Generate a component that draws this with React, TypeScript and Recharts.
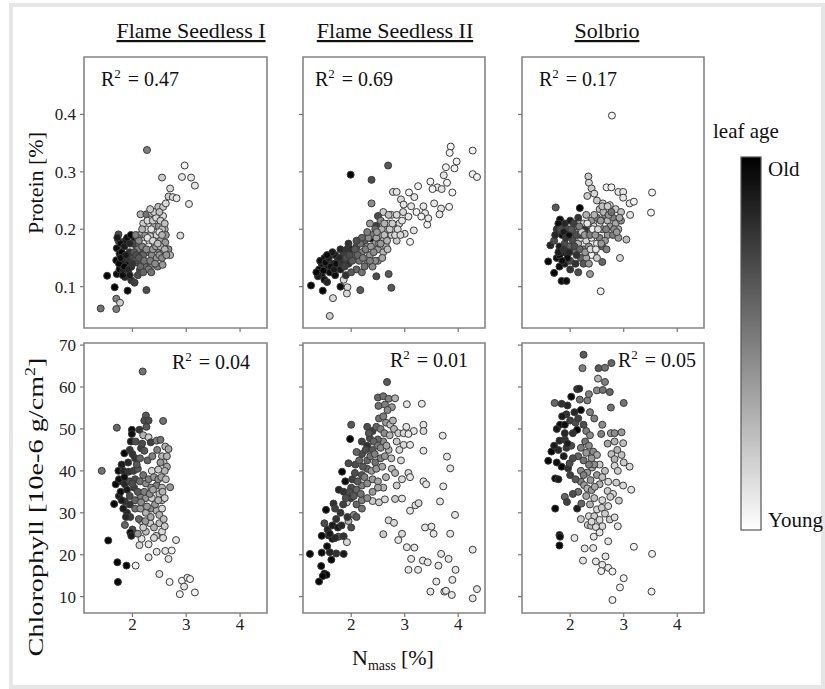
import React from 'react';
import { ScatterChart, Scatter, XAxis, YAxis, ReferenceArea } from 'recharts';

type Pt = [number, number, number]; // [N mass %, value, leaf age 0=old .. 1=young]

const cultivars = ['Flame Seedless I', 'Flame Seedless II', 'Solbrio'];
const nTicks = [2, 3, 4];
const proteinTicks = [0.1, 0.2, 0.3, 0.4];
const chlTicks = [10, 20, 30, 40, 50, 60, 70];
const proteinR2 = ['0.47', '0.69', '0.17'];
const chlR2 = ['0.04', '0.01', '0.05'];

const fs1Protein: Pt[] = [
  [2.27,0.338,0.5],[2.97,0.311,0.95],[2.55,0.29,0.8],[2.92,0.291,0.9],[3.09,0.29,0.9],[3.16,0.276,0.9],
  [2.70,0.271,0.85],[2.67,0.257,0.8],[2.75,0.256,0.85],[2.82,0.254,0.9],[3.05,0.244,0.9],[2.48,0.239,0.75],
  [2.57,0.239,0.8],[2.15,0.226,0.7],[2.26,0.226,0.45],[2.36,0.228,0.75],[2.57,0.223,0.85],[2.89,0.189,0.85],
  [2.6,0.2,0.7],[2.62,0.19,0.6],[1.74,0.191,0.3],[1.74,0.18,0.3],[2.04,0.183,0.05],[1.87,0.18,0.05],
  [2.3,0.207,0.9],[2.4,0.205,0.7],[2.49,0.205,0.6],[2.55,0.2,0.75],[2.14,0.19,0.75],[2.24,0.19,0.6],
  [2.33,0.188,0.8],[2.42,0.18,0.7],[2.52,0.18,0.65],[2.61,0.177,0.6],[2.2,0.175,0.95],[2.3,0.17,0.9],
  [2.08,0.17,0.4],[2.4,0.166,0.6],[2.49,0.164,0.55],[2.58,0.162,0.6],[2.67,0.165,0.55],[2.7,0.155,0.7],
  [1.71,0.167,0.05],[1.76,0.158,0.05],[1.7,0.146,0.02],[1.82,0.146,0.1],[1.92,0.149,0.2],[2.01,0.152,0.3],
  [2.1,0.142,0.45],[2.19,0.138,0.5],[2.28,0.141,0.5],[2.37,0.138,0.55],[2.47,0.135,0.5],[2.56,0.138,0.6],
  [1.89,0.138,0.05],[1.98,0.135,0.15],[2.14,0.129,0.3],[2.23,0.135,0.45],[1.53,0.119,0.02],[1.71,0.122,0.05],
  [1.86,0.117,0.15],[1.98,0.111,0.2],[2.04,0.107,0.25],[1.67,0.099,0.02],[1.91,0.093,0.02],[2.26,0.094,0.3],
  [1.7,0.079,0.5],[1.77,0.072,0.8],[1.7,0.061,0.5],[1.41,0.062,0.45],[1.76,0.13,0.02],[1.83,0.128,0.1],
  [2.3,0.16,0.5],[2.36,0.155,0.55],[2.17,0.16,0.3],[1.95,0.16,0.2],[2.05,0.145,0.35],[1.8,0.14,0.1],
  [2.1,0.165,0.5],[2.2,0.155,0.4],[2.45,0.15,0.6],[2.0,0.175,0.3],[2.1,0.185,0.6],[2.25,0.2,0.85],
  [2.35,0.2,0.9],[2.45,0.19,0.85],[2.5,0.195,0.9],
  [1.72,0.185,0.1],[1.78,0.175,0.05],[1.8,0.16,0.02],[1.85,0.17,0.1],[1.9,0.185,0.05],[1.95,0.175,0.15],
  [1.97,0.19,0.02],[1.75,0.14,0.02],[1.78,0.15,0.05],[1.85,0.135,0.02],[1.88,0.155,0.1],[1.93,0.13,0.15],
  [2.0,0.14,0.2],[2.03,0.16,0.35],[2.07,0.155,0.3],[2.12,0.15,0.35],[2.15,0.135,0.4],[2.18,0.17,0.5],
  [2.22,0.145,0.45],[2.26,0.165,0.55],[2.3,0.13,0.5],[2.33,0.145,0.5],[2.38,0.165,0.6],[2.42,0.14,0.55],
  [2.44,0.17,0.65],[2.5,0.155,0.6],[2.52,0.17,0.7],[2.55,0.15,0.55],[2.6,0.165,0.7],[2.63,0.155,0.6],
  [2.2,0.21,0.8],[2.28,0.215,0.85],[2.38,0.215,0.8],[2.44,0.22,0.85],[2.52,0.215,0.8],[2.6,0.21,0.75],
  [2.18,0.2,0.7],[2.28,0.185,0.9],[2.38,0.18,0.85],[2.47,0.175,0.75],[2.55,0.19,0.7],[2.12,0.18,0.55],
  [2.06,0.19,0.5],[1.95,0.12,0.1],[2.1,0.12,0.3],[2.2,0.125,0.4],[2.35,0.125,0.45],[1.82,0.12,0.05],
  [2.4,0.23,0.8],[2.5,0.23,0.75],[2.33,0.235,0.8],[2.62,0.245,0.85],
];

const fs2Protein: Pt[] = [
  [3.86,0.344,0.95],[3.84,0.333,0.95],[4.27,0.337,0.95],[3.97,0.318,0.95],[3.93,0.306,0.95],[3.77,0.308,0.95],
  [4.27,0.296,0.95],[4.35,0.291,0.95],[3.73,0.294,0.9],[3.79,0.281,0.95],[3.48,0.283,0.95],[3.25,0.275,0.95],
  [3.61,0.273,0.9],[3.52,0.27,0.95],[3.69,0.27,0.9],[3.89,0.264,0.95],[3.08,0.264,0.95],[3.18,0.256,0.9],
  [2.78,0.265,0.85],[2.85,0.265,0.9],[2.93,0.252,0.85],[2.98,0.243,0.9],[3.55,0.245,0.9],[3.68,0.236,0.9],
  [3.83,0.239,0.95],[3.12,0.24,0.9],[3.22,0.23,0.95],[3.35,0.24,0.9],[3.38,0.228,0.9],[3.31,0.222,0.95],
  [3.42,0.208,0.95],[3.44,0.219,0.9],[3.65,0.226,0.9],[2.97,0.23,0.85],[3.07,0.222,0.9],[3.17,0.198,0.9],
  [3.1,0.178,0.95],[3.0,0.192,0.85],[2.69,0.311,0.35],[1.99,0.295,0.02],[2.38,0.286,0.3],[2.38,0.245,0.55],
  [2.6,0.23,0.8],[2.5,0.223,0.3],[2.47,0.206,0.25],[2.37,0.184,0.02],[2.7,0.122,0.35],[2.75,0.098,0.35],
  [2.17,0.094,0.35],[2.47,0.118,0.3],[1.86,0.112,0.85],[1.93,0.099,0.85],[1.92,0.088,0.85],[1.66,0.08,0.85],
  [1.6,0.049,0.8],[1.25,0.102,0.02],[1.47,0.093,0.02],[1.4,0.13,0.02],[1.45,0.14,0.05],[1.5,0.15,0.02],
  [1.55,0.135,0.1],[1.6,0.125,0.05],[1.45,0.12,0.02],[1.5,0.112,0.05],[1.38,0.118,0.1],[1.65,0.14,0.15],
  [1.7,0.155,0.1],[1.75,0.145,0.2],[1.8,0.13,0.1],[1.85,0.16,0.25],[1.9,0.15,0.3],[1.95,0.14,0.2],
  [2.0,0.165,0.05],[2.05,0.155,0.4],[2.1,0.17,0.3],[2.15,0.145,0.45],[2.2,0.16,0.5],[2.25,0.18,0.4],
  [2.3,0.17,0.55],[2.35,0.155,0.6],[2.4,0.19,0.5],[2.45,0.175,0.65],[2.5,0.165,0.6],[2.55,0.19,0.7],
  [2.6,0.18,0.75],[2.65,0.2,0.75],[2.7,0.21,0.8],[2.75,0.19,0.8],[2.8,0.2,0.85],[2.85,0.18,0.8],
  [2.9,0.21,0.85],[2.6,0.16,0.7],[2.5,0.145,0.6],[2.3,0.14,0.5],[2.1,0.13,0.4],[1.9,0.12,0.2],
  [2.0,0.125,0.35],[2.2,0.125,0.45],[2.4,0.135,0.55],[2.45,0.2,0.45],[2.55,0.215,0.55],[2.35,0.21,0.6],
  [1.7,0.12,0.05],[1.55,0.108,0.15],[1.8,0.1,0.05],[2.65,0.17,0.7],[2.75,0.225,0.85],
  [1.35,0.125,0.02],[1.42,0.145,0.05],[1.48,0.128,0.02],[1.52,0.142,0.05],[1.58,0.15,0.1],[1.62,0.135,0.05],
  [1.68,0.13,0.1],[1.72,0.14,0.05],[1.78,0.15,0.15],[1.82,0.14,0.2],[1.88,0.135,0.25],[1.92,0.165,0.2],
  [1.97,0.155,0.3],[2.02,0.145,0.35],[2.07,0.165,0.35],[2.12,0.155,0.4],[2.17,0.175,0.45],[2.22,0.15,0.5],
  [2.27,0.165,0.5],[2.32,0.185,0.55],[2.37,0.17,0.6],[2.42,0.16,0.55],[2.47,0.185,0.65],[2.52,0.175,0.65],
  [2.57,0.2,0.7],[2.62,0.19,0.75],[2.67,0.18,0.7],[2.72,0.2,0.8],[2.77,0.21,0.8],[2.82,0.19,0.85],
  [2.87,0.2,0.85],[2.92,0.19,0.85],[2.95,0.215,0.9],[2.85,0.225,0.85],[2.7,0.225,0.75],[2.62,0.21,0.7],
  [2.48,0.195,0.6],[2.3,0.195,0.5],[2.2,0.185,0.4],[2.1,0.18,0.3],[1.95,0.175,0.2],[1.8,0.165,0.15],
  [1.65,0.16,0.1],[1.55,0.155,0.02],[2.55,0.175,0.6],[2.45,0.145,0.55],[2.35,0.145,0.5],[2.25,0.135,0.45],
  [2.58,0.15,0.65],[2.68,0.165,0.75],
];

const solProtein: Pt[] = [
  [2.78,0.398,0.95],[2.34,0.292,0.8],[2.35,0.281,0.85],[2.4,0.271,0.8],[2.32,0.258,0.8],[2.45,0.262,0.85],
  [2.5,0.25,0.8],[2.68,0.273,0.95],[2.77,0.273,0.95],[2.9,0.265,0.9],[2.99,0.265,0.9],[2.99,0.255,0.9],
  [3.53,0.264,0.95],[3.51,0.229,0.95],[3.11,0.245,0.9],[3.19,0.248,0.95],[3.12,0.225,0.9],[2.61,0.245,0.8],
  [2.74,0.242,0.85],[2.55,0.235,0.75],[2.85,0.235,0.8],[2.95,0.23,0.75],[1.73,0.238,0.35],[2.18,0.237,0.02],
  [1.81,0.217,0.02],[1.63,0.172,0.15],[1.59,0.144,0.02],[1.7,0.124,0.02],[1.84,0.11,0.05],[1.93,0.11,0.05],
  [2.37,0.122,0.6],[2.57,0.092,0.95],[2.6,0.143,0.4],[2.93,0.15,0.85],[3.05,0.182,0.75],[1.75,0.2,0.2],
  [1.85,0.19,0.05],[1.9,0.21,0.15],[1.95,0.2,0.3],[2.0,0.215,0.1],[2.05,0.195,0.5],[2.1,0.205,0.4],
  [2.15,0.22,0.2],[2.2,0.2,0.6],[2.25,0.21,0.8],[2.3,0.225,0.7],[2.35,0.2,0.9],[2.4,0.215,0.6],
  [2.45,0.205,0.85],[2.5,0.22,0.5],[2.55,0.21,0.9],[2.6,0.2,0.6],[2.65,0.225,0.55],[2.7,0.215,0.7],
  [2.75,0.205,0.6],[2.8,0.22,0.5],[2.85,0.21,0.65],[2.9,0.2,0.7],[2.95,0.215,0.55],[2.7,0.19,0.6],
  [2.8,0.19,0.5],[2.9,0.185,0.6],[1.7,0.18,0.3],[1.8,0.17,0.1],[1.85,0.16,0.02],[1.9,0.175,0.3],
  [1.95,0.155,0.1],[2.0,0.17,0.4],[2.05,0.18,0.3],[2.1,0.16,0.5],[2.15,0.175,0.7],[2.2,0.185,0.9],
  [2.25,0.165,0.5],[2.3,0.18,0.85],[2.35,0.17,0.6],[2.4,0.185,0.9],[2.45,0.16,0.7],[2.5,0.175,0.9],
  [2.55,0.185,0.5],[2.6,0.17,0.4],[2.65,0.18,0.6],[2.4,0.155,0.95],[2.5,0.15,0.8],[1.75,0.15,0.05],
  [1.8,0.135,0.02],[1.9,0.14,0.1],[2.0,0.145,0.3],[2.1,0.14,0.2],[2.2,0.15,0.4],[2.3,0.15,0.65],
  [2.0,0.13,0.2],[2.15,0.125,0.3],[1.8,0.155,0.05],[2.2,0.19,0.3],[2.28,0.2,0.2],
  [1.72,0.19,0.15],[1.78,0.21,0.05],[1.82,0.2,0.3],[1.88,0.195,0.1],[1.92,0.185,0.2],[1.98,0.19,0.05],
  [2.02,0.2,0.35],[2.07,0.21,0.25],[2.12,0.19,0.3],[2.17,0.205,0.5],[2.22,0.195,0.85],[2.27,0.19,0.6],
  [2.32,0.21,0.9],[2.37,0.19,0.5],[2.42,0.2,0.95],[2.47,0.19,0.6],[2.52,0.2,0.85],[2.57,0.215,0.6],
  [2.62,0.23,0.7],[2.67,0.2,0.5],[2.72,0.225,0.6],[2.77,0.23,0.45],[2.82,0.2,0.55],[2.87,0.195,0.6],
  [2.92,0.22,0.65],[1.78,0.16,0.1],[1.88,0.165,0.2],[1.98,0.16,0.15],[2.08,0.17,0.3],[2.18,0.165,0.4],
  [2.28,0.16,0.6],[2.38,0.165,0.85],[2.48,0.165,0.9],[2.58,0.175,0.6],[2.68,0.165,0.5],[2.25,0.14,0.35],
  [2.35,0.14,0.6],[1.95,0.15,0.05],[1.85,0.145,0.05],[2.12,0.155,0.2],[2.6,0.24,0.75],[2.7,0.24,0.8],
  [2.45,0.225,0.7],
];

const fs1Chl: Pt[] = [
  [2.19,63.7,0.45],[2.25,53.2,0.35],[2.22,52,0.3],[2.3,52,0.3],[2.57,51.9,0.45],[1.71,50.3,0.4],
  [1.99,49.8,0.02],[1.99,48.8,0.05],[2.13,49.8,0.2],[2.2,48.5,0.7],[2.3,48,0.8],[2.34,46.8,0.25],
  [2.45,47.2,0.5],[2.52,47.4,0.45],[2.61,45.8,0.7],[2.67,45.2,0.65],[2.16,45.4,0.25],[2.22,44.8,0.35],
  [1.85,44.2,0.02],[2.05,43,0.2],[2.55,43.5,0.7],[2.58,42,0.75],[2.64,41,0.65],[2.6,40,0.7],
  [1.43,40,0.45],[1.74,40,0.05],[1.83,40,0.15],[1.93,39.8,0.2],[2.02,40,0.25],[2.1,40.5,0.35],
  [2.36,40,0.85],[2.48,40.3,0.8],[1.69,36.8,0.02],[1.8,37.5,0.1],[1.86,36.8,0.15],[1.95,37.5,0.3],
  [2.05,38,0.3],[2.14,37.5,0.45],[2.25,37,0.55],[2.35,36,0.6],[2.45,36.5,0.5],[2.55,36,0.7],
  [2.7,36.1,0.6],[1.66,32.1,0.02],[1.75,34,0.1],[1.86,32.7,0.2],[1.95,34,0.3],[2.05,33,0.4],
  [2.15,34,0.5],[2.25,33.5,0.6],[2.36,33.5,0.8],[2.5,34.5,0.75],[2.55,33,0.8],[1.9,30,0.15],
  [1.96,29,0.25],[2.05,31,0.45],[2.15,31,0.6],[2.25,30,0.7],[2.35,31,0.55],[2.45,30.5,0.7],
  [2.55,31,0.85],[1.86,27.1,0.4],[2.17,28,0.85],[2.33,27.5,0.8],[2.5,27.5,0.75],[2.0,26,0.3],
  [1.96,25.3,0.05],[1.98,24.5,0.1],[2.13,22.3,0.85],[2.17,23.8,0.9],[2.25,25.5,0.75],[2.4,26.5,0.7],
  [2.55,25.5,0.85],[2.6,26.8,0.8],[2.81,23.5,0.9],[1.55,23.4,0.02],[2.3,19.4,0.9],[2.45,20.7,0.9],
  [2.61,20.9,0.9],[2.73,21,0.95],[2.67,19,0.9],[1.72,18.2,0.02],[1.89,17.4,0.02],[2.06,17.4,0.95],
  [2.5,15.4,0.9],[1.73,13.5,0.02],[2.69,13.5,0.95],[2.92,13.8,0.95],[3.02,14.5,0.9],[3.07,14.2,0.95],
  [2.96,12.4,0.9],[2.88,10.6,0.95],[3.16,11,0.95],
  [1.75,38,0.05],[1.78,35,0.05],[1.8,33,0.1],[1.83,31,0.1],[1.88,29,0.15],[1.9,35.5,0.1],
  [1.92,42,0.15],[1.95,45,0.2],[1.97,47,0.1],[2.0,44,0.2],[2.03,36,0.25],[2.06,47,0.3],
  [2.08,41.5,0.35],[2.1,35,0.35],[2.12,28.5,0.4],[2.14,43,0.4],[2.18,46.5,0.3],[2.2,39,0.45],
  [2.22,35,0.5],[2.24,28,0.6],[2.26,50.5,0.35],[2.28,42.5,0.4],[2.3,38,0.5],[2.32,34.5,0.55],
  [2.34,29,0.65],[2.37,43.5,0.5],[2.4,38.5,0.6],[2.42,32,0.6],[2.44,24.5,0.8],[2.46,45,0.5],
  [2.48,38,0.55],[2.5,29.5,0.7],[2.52,42,0.6],[2.54,38.5,0.65],[2.56,35,0.7],[2.58,28.5,0.75],
  [2.6,33.5,0.8],[2.62,38,0.75],[2.64,43.5,0.7],[2.57,24,0.85],[2.4,24,0.85],[2.3,22.5,0.9],
  [2.2,26.5,0.8],[2.1,25,0.6],[1.95,32,0.2],[1.85,38.5,0.05],[1.8,41.5,0.1],[2.0,37,0.3],
  [2.16,32.5,0.55],[2.27,31.5,0.6],[2.38,35.5,0.65],[2.48,33,0.7],
];

const fs2Chl: Pt[] = [
  [2.67,61.2,0.35],[2.5,57.5,0.4],[2.6,57.8,0.45],[2.7,57.2,0.5],[2.82,57.3,0.7],[2.51,55.5,0.45],
  [2.63,55.8,0.5],[2.76,55.2,0.6],[3.04,55.9,0.9],[3.32,56,0.9],[2.0,51,0.35],[1.98,47.6,0.02],
  [2.3,50.5,0.3],[2.4,49.5,0.25],[2.47,50.5,0.4],[2.55,50,0.5],[2.65,51.5,0.6],[2.73,51,0.75],
  [2.8,50,0.7],[2.88,49,0.8],[3.03,50.5,0.9],[3.17,49.5,0.9],[3.35,51,0.9],[3.35,49.5,0.85],
  [2.98,49,0.85],[3.07,48.8,0.9],[3.71,48.4,0.9],[2.98,46.2,0.85],[3.1,46.2,0.9],[3.35,44.8,0.9],
  [3.79,43.4,0.9],[3.85,40.6,0.9],[1.95,41.8,0.3],[1.83,39.8,0.02],[1.89,37.5,0.05],[2.07,39.5,0.3],
  [2.2,39,0.35],[2.3,40.5,0.4],[2.2,44,0.3],[2.3,46,0.2],[2.4,45,0.35],[2.45,42,0.45],
  [2.55,43,0.5],[2.63,43.5,0.6],[2.7,45,0.7],[2.6,47,0.55],[2.5,47.5,0.4],[2.35,47.8,0.3],
  [2.2,47,0.25],[2.1,44.5,0.4],[2.76,40.5,0.75],[2.82,39.5,0.7],[3.07,39.5,0.85],[3.1,38.5,0.9],
  [3.35,37.5,0.9],[3.4,36.8,0.9],[3.72,36.3,0.9],[3.66,32.7,0.9],[3.94,29.5,0.9],[1.77,35.5,0.15],
  [1.86,35,0.2],[2.0,36,0.3],[2.1,35.5,0.4],[2.2,36.5,0.5],[2.3,37,0.55],[2.4,38,0.6],
  [2.5,37.5,0.65],[2.6,36,0.7],[1.67,32.2,0.2],[1.7,31,0.25],[1.53,30.7,0.02],[1.92,32.5,0.8],
  [2.0,33.5,0.25],[2.1,32,0.4],[2.2,33,0.5],[2.4,32.8,0.8],[2.52,32.5,0.8],[2.63,33.2,0.85],
  [2.82,33.3,0.8],[2.95,33.4,0.9],[3.1,30.5,0.9],[3.2,31.8,0.9],[3.26,32.3,0.85],[3.38,26.5,0.9],
  [3.5,26.7,0.9],[3.54,25,0.9],[3.85,25,0.9],[2.6,24.9,0.8],[2.7,28.2,0.85],[2.8,27.6,0.85],
  [2.88,23.5,0.9],[2.95,25,0.85],[1.5,27.5,0.3],[1.56,26,0.15],[1.45,24.5,0.02],[1.58,24.6,0.1],
  [1.65,23.8,0.05],[1.76,24.3,0.3],[1.86,24.4,0.2],[1.92,23,0.85],[1.95,28,0.7],[2.05,29.5,0.5],
  [2.0,26.5,0.3],[1.23,20.2,0.02],[1.45,20.5,0.05],[1.6,20.6,0.15],[1.72,20.3,0.2],[1.86,20.2,0.1],
  [1.63,18.8,0.02],[1.44,17.3,0.02],[1.5,15.5,0.02],[1.54,15.2,0.02],[1.47,14.9,0.02],[1.4,13.6,0.02],
  [3.04,21.8,0.9],[3.18,21.7,0.9],[3.12,19,0.9],[3.34,18.6,0.9],[3.43,18.2,0.9],[3.68,20.2,0.9],
  [3.63,17.4,0.9],[3.82,19,0.9],[3.07,16.4,0.9],[3.25,16.4,0.9],[3.95,16.4,0.9],[4.27,21.2,0.9],
  [3.59,13.6,0.9],[3.48,11.2,0.9],[3.74,11.2,0.9],[3.77,11.4,0.9],[3.88,10.4,0.9],[3.89,14,0.9],
  [4.27,9.6,0.9],[4.35,11.8,0.9],
  [1.55,22,0.05],[1.6,25,0.1],[1.65,27,0.1],[1.7,24,0.15],[1.72,28.5,0.2],[1.75,26.5,0.1],
  [1.8,30,0.2],[1.82,27,0.15],[1.85,32,0.25],[1.9,33.5,0.3],[1.93,29,0.2],[1.97,35,0.3],
  [2.02,38,0.25],[2.05,34,0.35],[2.08,41.5,0.3],[2.12,37.5,0.35],[2.15,42.5,0.4],[2.18,34.5,0.45],
  [2.22,41,0.35],[2.25,38.5,0.5],[2.27,45,0.3],[2.3,42.5,0.4],[2.33,49,0.35],[2.36,43.5,0.45],
  [2.38,40,0.6],[2.42,47,0.4],[2.44,44,0.5],[2.47,40.5,0.6],[2.5,46,0.5],[2.52,52.5,0.45],
  [2.55,45.5,0.55],[2.58,41,0.65],[2.6,53,0.5],[2.62,49,0.55],[2.66,46,0.65],[2.68,54.5,0.55],
  [2.72,48.5,0.7],[2.75,43,0.75],[2.78,52,0.7],[2.85,47,0.8],[2.9,45,0.85],[2.93,42.5,0.85],
  [2.5,36,0.65],[2.4,35,0.6],[2.3,33.5,0.55],[2.2,31,0.45],[2.1,29,0.35],[2.65,38.5,0.7],
  [2.85,36.5,0.8],[2.95,38,0.85],
];

const solChl: Pt[] = [
  [2.25,67.7,0.35],[2.23,64.5,0.5],[2.53,64.5,0.35],[2.65,64.6,0.45],[2.77,65.7,0.4],[2.52,62,0.7],
  [2.65,61.2,0.5],[2.5,59.2,0.55],[2.61,59.3,0.45],[2.74,58.8,0.4],[2.13,59.5,0.2],[2.17,59.6,0.15],
  [2.02,57.7,0.02],[1.71,56.2,0.4],[1.84,56,0.2],[1.95,55.6,0.15],[2.18,57,0.45],[2.32,56.8,0.5],
  [2.2,54.5,0.02],[2.37,54,0.5],[2.76,55.1,0.45],[3.0,56.2,0.45],[1.93,53.5,0.2],[2.0,52,0.25],
  [2.1,51.5,0.3],[1.81,51,0.05],[1.9,51,0.05],[2.13,49.8,0.02],[2.3,49.5,0.5],[2.37,48.5,0.55],
  [2.58,48.8,0.5],[2.76,49,0.6],[2.83,49,0.55],[2.96,49.2,0.6],[2.83,47,0.7],[2.99,46.6,0.75],
  [1.8,47.2,0.15],[1.9,47.5,0.2],[1.65,44.6,0.02],[1.78,45,0.15],[1.59,42.4,0.02],[1.93,45.5,0.2],
  [2.02,46,0.3],[2.2,45.5,0.5],[2.3,44.3,0.6],[2.43,44.6,0.55],[2.5,43.8,0.65],[2.77,44,0.75],
  [2.83,42.8,0.7],[2.96,43.8,0.75],[3.0,42,0.8],[1.84,41,0.02],[1.96,40.6,0.2],[1.99,41.8,0.3],
  [2.2,40,0.55],[2.32,39.6,0.6],[2.41,40.8,0.65],[2.55,41.5,0.8],[2.65,40,0.75],[2.83,41.2,0.85],
  [2.89,40,0.8],[3.11,41,0.85],[1.72,38.2,0.05],[1.78,38,0.1],[2.0,39,0.25],[2.2,37.4,0.5],
  [2.26,36.6,0.6],[2.32,35.8,0.7],[2.4,35.4,0.6],[2.55,36.8,0.7],[2.71,37.4,0.85],[2.86,37.2,0.8],
  [2.99,36.5,0.85],[3.14,35.5,0.9],[1.9,33.8,0.4],[1.94,32.6,0.25],[1.72,31,0.02],[2.13,31,0.1],
  [2.21,32.2,0.4],[2.37,32,0.7],[2.5,30.8,0.85],[2.59,31.2,0.8],[2.71,31.6,0.85],[2.91,32.9,0.8],
  [2.35,29.2,0.85],[2.45,29.2,0.8],[2.6,26.8,0.85],[2.74,28.4,0.8],[2.83,28.9,0.85],[2.89,26.8,0.9],
  [2.33,27.1,0.8],[2.39,26.9,0.75],[2.48,26.6,0.85],[1.8,24.7,0.02],[1.81,24.3,0.05],[1.8,22.2,0.02],
  [2.08,24,0.9],[2.44,24.3,0.9],[2.55,25.3,0.9],[2.27,21.5,0.9],[2.43,21.6,0.9],[2.71,23.2,0.9],
  [2.24,18.6,0.9],[2.48,18.4,0.9],[2.66,19.6,0.9],[2.6,17.6,0.9],[2.58,16.1,0.95],[2.71,16.9,0.9],
  [2.79,16,0.95],[3.19,21.9,0.95],[3.53,20.2,0.95],[3.0,14.4,0.95],[2.93,12.2,0.95],[2.79,9.2,0.95],
  [3.52,11.2,0.95],
  [1.75,50,0.1],[1.85,53,0.1],[1.9,49,0.15],[1.95,46.5,0.1],[2.05,49,0.2],[2.08,54,0.15],
  [2.15,52.5,0.25],[2.25,51,0.3],[2.28,47,0.45],[2.35,46,0.55],[2.4,43,0.6],[2.45,41.5,0.55],
  [2.5,39,0.6],[2.35,41.5,0.5],[2.25,42.5,0.45],[2.15,43.5,0.4],[2.05,43,0.3],[1.88,43.5,0.1],
  [1.75,42,0.05],[1.7,46,0.1],[2.1,38,0.35],[2.25,39,0.5],[2.38,37.8,0.6],[2.46,36.2,0.65],
  [2.6,38.5,0.75],[2.7,35.2,0.8],[2.8,34.5,0.85],[2.45,33.5,0.75],[2.3,34,0.65],[2.15,35,0.45],
  [2.05,34.5,0.3],[2.6,33,0.85],[2.75,33.8,0.8],[2.55,28.3,0.85],[2.65,29.8,0.8],[2.4,27.9,0.85],
  [2.2,28.5,0.8],[2.88,45,0.7],[2.7,46.5,0.65],[2.6,51,0.55],[2.45,52.5,0.5],[2.35,58.3,0.5],
];

const proteinSets = [fs1Protein, fs2Protein, solProtein];
const chlSets = [fs1Chl, fs2Chl, solChl];

// ---- layout (not data) ----
const FONT = '"Liberation Serif", "Times New Roman", serif';
const X_DOMAIN: [number, number] = [1.1, 4.5];
const P_DOMAIN: [number, number] = [0.028, 0.5];
const C_DOMAIN: [number, number] = [6.1, 70.5];
const COLS = [{ left: 84, w: 183 }, { left: 303, w: 182 }, { left: 522, w: 182 }];
const ROWS = [{ top: 57, h: 271 }, { top: 343, h: 270 }];
const TITLE_X = [191, 395, 607];
const R2_TOP = [{ x: 101, y: 86 }, { x: 315, y: 86 }, { x: 539, y: 86 }];
const R2_BOT = [{ x: 172, y: 369 }, { x: 390, y: 367 }, { x: 618, y: 367 }];

function grey(age: number) {
  const v = Math.round(Math.max(0, Math.min(1, age)) * 255);
  return `rgb(${v},${v},${v})`;
}

const Dot = (props: any) => {
  const { cx, cy, payload } = props;
  if (cx == null || cy == null) return <g />;
  return <circle cx={cx} cy={cy} r={3.5} fill={grey(payload.age)} stroke="#3a3a3a" strokeWidth={1} />;
};

const hiddenTick = () => <g />;

function Panel(props: {
  data: Pt[]; left: number; top: number; w: number; h: number;
  yDomain: [number, number]; yTicks: number[]; showX: boolean; showY: boolean;
}) {
  const { data, left, top, w, h, yDomain, yTicks, showX, showY } = props;
  const rows = data.map(([x, y, age]) => ({ x, y, age }));
  const YW = 60;
  const XH = 40;
  const MT = 12;
  const tickStyle = { fill: '#222', fontSize: 17, fontFamily: FONT };
  return (
    <div style={{ position: 'absolute', left: left - YW, top: top - MT }}>
      <ScatterChart width={YW + w + 3} height={h + MT + XH} margin={{ top: MT, right: 3, bottom: 0, left: 0 }}>
        <XAxis
          type="number" dataKey="x" domain={X_DOMAIN} ticks={nTicks} allowDataOverflow interval={0}
          axisLine={false} tickLine={{ stroke: '#777', strokeWidth: 1.2 }} tickSize={4} tickMargin={1}
          height={XH} tick={showX ? tickStyle : hiddenTick}
        />
        <YAxis
          type="number" dataKey="y" domain={yDomain} ticks={yTicks} allowDataOverflow interval={0}
          axisLine={false} tickLine={{ stroke: '#777', strokeWidth: 1.2 }} tickSize={4} tickMargin={4}
          width={YW} tick={showY ? tickStyle : hiddenTick}
        />
        <ReferenceArea
          x1={X_DOMAIN[0]} x2={X_DOMAIN[1]} y1={yDomain[0]} y2={yDomain[1]}
          fill="none" fillOpacity={0} stroke="#858585" strokeWidth={1.6} ifOverflow="visible"
        />
        <Scatter data={rows} shape={Dot} isAnimationActive={false} />
      </ScatterChart>
    </div>
  );
}

function R2({ x, y, v }: { x: number; y: number; v: string }) {
  return (
    <text x={x} y={y} fontSize={20} fill="#111">
      R<tspan fontSize={13} dy={-8}>2</tspan>
      <tspan dy={8} dx={7}>{'= ' + v}</tspan>
    </text>
  );
}

export default function App() {
  return (
    <div style={{ position: 'absolute', left: 0, top: 0, width: 825, height: 689, background: '#fff', fontFamily: FONT }}>
      {COLS.map((c, i) => (
        <Panel key={'p' + i} data={proteinSets[i]} left={c.left} top={ROWS[0].top} w={c.w} h={ROWS[0].h}
          yDomain={P_DOMAIN} yTicks={proteinTicks} showX={false} showY={i === 0} />
      ))}
      {COLS.map((c, i) => (
        <Panel key={'c' + i} data={chlSets[i]} left={c.left} top={ROWS[1].top} w={c.w} h={ROWS[1].h}
          yDomain={C_DOMAIN} yTicks={chlTicks} showX={true} showY={i === 0} />
      ))}
      <svg width={825} height={689} style={{ position: 'absolute', left: 0, top: 0, pointerEvents: 'none' }} fontFamily={FONT}>
        <defs>
          <linearGradient id="leafAgeGrad" x1="0" y1="0" x2="0" y2="1">
            <stop offset="0%" stopColor="#000" />
            <stop offset="100%" stopColor="#fff" />
          </linearGradient>
        </defs>
        <rect x={11} y={5} width={812} height={682} fill="none" stroke="#e6e6e6" strokeWidth={4} />
        {cultivars.map((t, i) => (
          <text key={t} x={TITLE_X[i]} y={38} fontSize={22} textAnchor="middle" fill="#111"
            style={{ textDecoration: 'underline' }}>{t}</text>
        ))}
        {proteinR2.map((v, i) => <R2 key={'rt' + i} x={R2_TOP[i].x} y={R2_TOP[i].y} v={v} />)}
        {chlR2.map((v, i) => <R2 key={'rb' + i} x={R2_BOT[i].x} y={R2_BOT[i].y} v={v} />)}
        <text x={43} y={183} fontSize={22} textAnchor="middle" fill="#111" transform="rotate(-90 43 183)">Protein [%]</text>
        <text x={43} y={507} fontSize={22} textAnchor="middle" fill="#111" transform="rotate(-90 43 507)"
          textLength={299} lengthAdjust="spacingAndGlyphs">
          Chlorophyll [10e-6 g/cm<tspan fontSize={14} dy={-8}>2</tspan><tspan dy={8}>]</tspan>
        </text>
        <text x={352} y={665} fontSize={22} fill="#111">
          N<tspan fontSize={14} dy={5}>mass</tspan><tspan dy={-5} dx={5}>[%]</tspan>
        </text>
        <text x={713} y={138} fontSize={21} fill="#111">leaf age</text>
        <rect x={741} y={157} width={20} height={373} fill="url(#leafAgeGrad)" stroke="#555" strokeWidth={1.2} />
        <text x={768} y={176} fontSize={21} fill="#111">Old</text>
        <text x={768} y={527} fontSize={21} fill="#111">Young</text>
      </svg>
    </div>
  );
}
